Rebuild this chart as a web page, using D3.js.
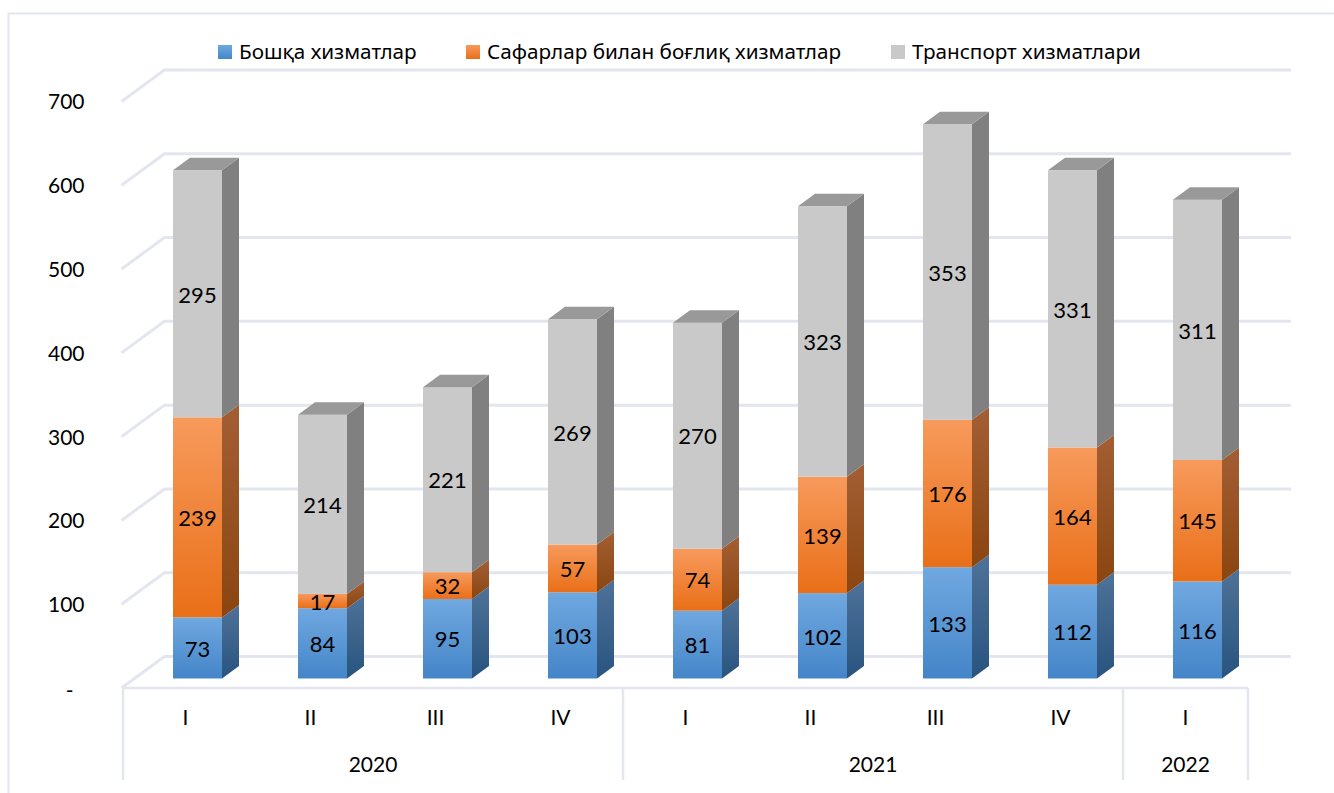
<!DOCTYPE html>
<html><head><meta charset="utf-8">
<script src="https://cdn.jsdelivr.net/npm/d3@7/dist/d3.min.js"></script>
<style>html,body{margin:0;padding:0;background:#fff;overflow:hidden}svg{display:block}text{fill:#000}</style>
</head><body><svg id="c" width="1334" height="793"></svg>
<script>
const quarters=["I","II","III","IV","I","II","III","IV","I"];
const years=[["2020",4],["2021",4],["2022",1]];
const seriesNames=["Бошқа хизматлар","Сафарлар билан боғлиқ хизматлар","Транспорт хизматлари"];
const other=[73,84,95,103,81,102,133,112,116];
const travel=[239,17,32,57,74,139,176,164,145];
const transport=[295,214,221,269,270,323,353,331,311];
const yTicks=[0,100,200,300,400,500,600,700];
const yTickLabels=["-","100","200","300","400","500","600","700"];

const FONT_NUM="Lato, Carlito, sans-serif", FONT_LEG="'Noto Sans', sans-serif";
const GRID="#e3e6ee";
const svg=d3.select("#c");
const defs=svg.append("defs");
function grad(id,a,b){const g=defs.append("linearGradient").attr("id",id).attr("x1",0).attr("y1",0).attr("x2",0).attr("y2",1);
 g.append("stop").attr("offset",0).attr("stop-color",a);g.append("stop").attr("offset",1).attr("stop-color",b);}
grad("f0","#70a8e0","#4485c8");grad("s0","#4f7299","#28547f");
grad("f1","#f79a5c","#e96f18");grad("s1","#a35f34","#8a4510");
grad("f2","#c9c9c9","#c9c9c9");grad("s2","#808080","#808080");
const fills=["f0","f1","f2"],sides=["s0","s1","s2"];

// frame
svg.append("path").attr("d","M8.5,793V13.5H1334").attr("fill","none").attr("stroke",GRID).attr("stroke-width",2);
// cropped text above the frame
svg.selectAll("text.cut").data([["(",1160],[")",1320]]).join("text").attr("class","cut").attr("x",d=>d[1]).attr("y",-4)
 .attr("text-anchor","middle").attr("font-family",FONT_NUM).attr("font-size",24).text(d=>d[0]);

const dx=43,dy=-31.5;             // wall depth
const barDx=17,barDy=-12.5;       // bar depth
const y=d3.scaleLinear().domain([0,700]).range([688,101.5]);   // front plane of the floor
const yBar=d3.scaleLinear().domain([0,700]).range([678.5,92.5]);
const x=d3.scaleBand().domain(d3.range(quarters.length)).range([123,1248]);

// gridlines + wall
const gridG=svg.append("g").attr("fill","none").attr("stroke",GRID).attr("stroke-width",3);
gridG.selectAll("path").data(yTicks).join("path")
 .attr("d",t=>`M121.5,${y(t)}L${121.5+dx},${y(t)+dy}H1291`);
// floor front + hierarchical axis
const axisG=svg.append("g").attr("fill","none").attr("stroke",GRID).attr("stroke-width",2.5);
axisG.append("path").attr("d",`M${x.range()[0]},688H${x.range()[1]}`);
let start=0;const yearPos=[];
axisG.append("path").attr("d",`M${x(0)},688V780`);
years.forEach(([yr,n])=>{const a=x(start),b=x(start+n-1)+x.bandwidth();
 axisG.append("path").attr("d",`M${b},688V780`);yearPos.push([yr,(a+b)/2]);start+=n;});

// y labels
const yAxis=d3.axisLeft(y).tickValues(yTicks).tickSize(0).tickFormat((d,i)=>yTickLabels[i]);
const ga=svg.append("g").attr("transform","translate(84.5,0)").call(yAxis);
ga.select(".domain").remove();
ga.selectAll("text").attr("font-family",FONT_NUM).attr("font-size",21).attr("fill","#000").attr("dy","0.35em").attr("x",0)
 .attr("transform",null).each(function(d){d3.select(this).attr("y",0);if(d===0)d3.select(this).attr("x",-11).attr("y",2);});

// quarter + year labels
svg.selectAll("text.q").data(quarters).join("text").attr("class","q")
 .attr("x",(d,i)=>x(i)+x.bandwidth()/2).attr("y",725).attr("text-anchor","middle")
 .attr("font-family",FONT_NUM).attr("font-size",21).text(d=>d);
svg.selectAll("text.yr").data(yearPos).join("text").attr("class","yr")
 .attr("x",d=>d[1]).attr("y",772).attr("text-anchor","middle")
 .attr("font-family",FONT_NUM).attr("font-size",21).text(d=>d[0]);

// bars
const rows=quarters.map((q,i)=>({i,other:other[i],travel:travel[i],transport:transport[i]}));
const stack=d3.stack().keys(["other","travel","transport"])(rows);
const W=49,off=50;
const barG=svg.append("g");
stack.forEach((layer,k)=>{
 layer.forEach((d,i)=>{
  const x0=x(i)+off,y0=yBar(d[0]),y1=yBar(d[1]);
  barG.append("path").attr("fill",`url(#${sides[k]})`)
   .attr("d",`M${x0+W},${y0}L${x0+W+barDx},${y0+barDy}V${y1+barDy}L${x0+W},${y1}Z`);
  barG.append("rect").attr("x",x0).attr("y",y1).attr("width",W).attr("height",y0-y1).attr("fill",`url(#${fills[k]})`);
  if(k===2) barG.append("path").attr("fill","#999999")
   .attr("d",`M${x0},${y1}L${x0+barDx},${y1+barDy}H${x0+W+barDx}L${x0+W},${y1}Z`);
 });
});
// data labels
stack.forEach(layer=>{
 svg.append("g").selectAll("text").data(layer).join("text")
  .attr("x",(d,i)=>x(i)+off+W/2).attr("y",d=>yBar((d[0]+d[1])/2)+1).attr("dy","0.35em")
  .attr("text-anchor","middle").attr("font-family",FONT_NUM).attr("font-size",22)
  .text((d,i)=>d[1]-d[0]);
});

// legend
const leg=svg.append("g");
const legX=[218,466,891];
seriesNames.forEach((n,k)=>{
 leg.append("rect").attr("x",legX[k]).attr("y",45).attr("width",14).attr("height",14).attr("fill",`url(#${fills[k]})`);
 leg.append("text").attr("x",legX[k]+21).attr("y",59).attr("font-family",FONT_LEG).attr("font-size",20.7).text(n);
});
</script></body></html>
